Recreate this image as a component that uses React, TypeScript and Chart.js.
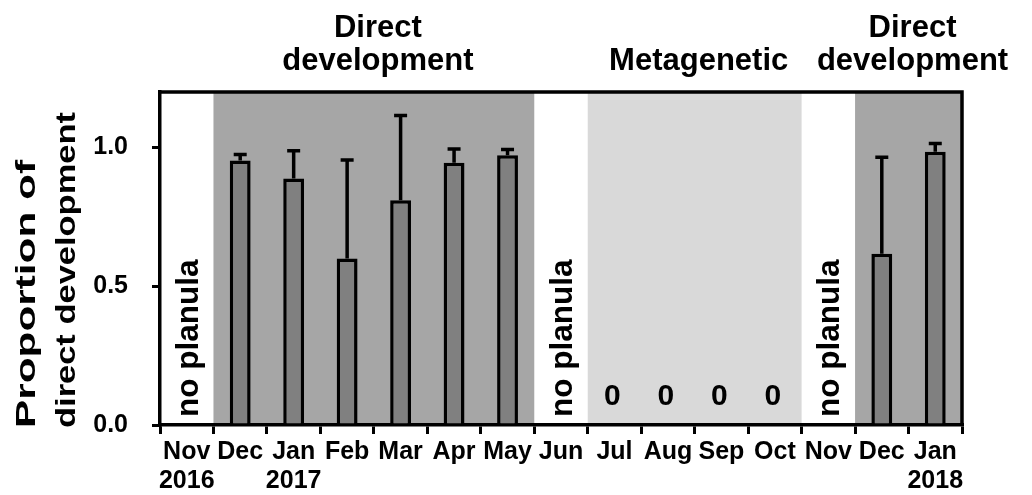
import React, { useEffect, useRef } from "react";
import { Chart, registerables } from "chart.js";

Chart.register(...registerables);

// ---- data ----
const months = ["Nov", "Dec", "Jan", "Feb", "Mar", "Apr", "May", "Jun", "Jul", "Aug", "Sep", "Oct", "Nov", "Dec", "Jan"];
const years = ["2016", "", "2017", "", "", "", "", "", "", "", "", "", "", "", "2018"];
const proportion: (number | null)[] = [null, 0.953, 0.888, 0.6, 0.81, 0.945, 0.972, null, 0, 0, 0, 0, null, 0.617, 0.985];
const errorUpper: (number | null)[] = [null, 0.022, 0.1, 0.355, 0.305, 0.05, 0.021, null, null, null, null, null, null, 0.348, 0.029];
const phase = ["none", "direct", "direct", "direct", "direct", "direct", "direct", "none", "meta", "meta", "meta", "meta", "none", "direct", "direct"];
const phaseHeaders: Record<string, string[]> = { direct: ["Direct", "development"], meta: ["Metagenetic"] };
const phaseColors: Record<string, string> = { direct: "#a6a6a6", meta: "#d9d9d9" };
const noSampleLabel = "no planula";
const yTickValues = [0, 0.5, 1.0];
const yTitle = ["Proportion of", "direct development"];

const FONT = "'Liberation Sans', Arial, sans-serif";

const labels = months.map((m, i) => (years[i] ? [m, years[i]] : m));

const decorPlugin = {
  id: "decor",
  beforeDraw(chart: any) {
    const { ctx, chartArea, scales } = chart;
    const x = scales.x;
    const half = (x.getPixelForValue(1) - x.getPixelForValue(0)) / 2;
    ctx.save();
    let i = 0;
    while (i < phase.length) {
      let j = i;
      while (j + 1 < phase.length && phase[j + 1] === phase[i]) j++;
      const color = phaseColors[phase[i]];
      if (color) {
        const l = x.getPixelForValue(i) - half;
        const r = x.getPixelForValue(j) + half;
        ctx.fillStyle = color;
        ctx.fillRect(l, chartArea.top, r - l, chartArea.bottom - chartArea.top);
      }
      i = j + 1;
    }
    ctx.restore();
  },
  afterDatasetsDraw(chart: any) {
    const { ctx, scales } = chart;
    const y = scales.y;
    const meta = chart.getDatasetMeta(0);
    ctx.save();
    ctx.strokeStyle = "#000";
    ctx.lineWidth = 3.5;
    ctx.lineCap = "butt";
    errorUpper.forEach((e, i) => {
      const v = proportion[i];
      if (e == null || v == null) return;
      const bar = meta.data[i];
      const top = y.getPixelForValue(v + e);
      ctx.beginPath();
      ctx.moveTo(bar.x, bar.y);
      ctx.lineTo(bar.x, top);
      ctx.moveTo(bar.x - 6.5, top);
      ctx.lineTo(bar.x + 6.5, top);
      ctx.stroke();
    });
    ctx.restore();
  },
  afterDraw(chart: any) {
    const { ctx, chartArea, scales } = chart;
    const x = scales.x;
    const y = scales.y;
    ctx.save();
    // top & right frame
    ctx.strokeStyle = "#000";
    ctx.lineWidth = 3.5;
    ctx.beginPath();
    ctx.moveTo(chartArea.left, chartArea.top);
    ctx.lineTo(chartArea.right, chartArea.top);
    ctx.lineTo(chartArea.right, chartArea.bottom);
    ctx.stroke();

    ctx.fillStyle = "#000";
    // phase headers
    ctx.font = `bold 31px ${FONT}`;
    ctx.textAlign = "center";
    ctx.textBaseline = "alphabetic";
    let i = 0;
    while (i < phase.length) {
      let j = i;
      while (j + 1 < phase.length && phase[j + 1] === phase[i]) j++;
      const lines = phaseHeaders[phase[i]];
      if (lines) {
        const cx = (x.getPixelForValue(i) + x.getPixelForValue(j)) / 2 + 4;
        lines.forEach((t, k) => {
          ctx.fillText(t, cx, 70 - (lines.length - 1 - k) * 33);
        });
      }
      i = j + 1;
    }

    // zero labels and no-sample labels
    proportion.forEach((v, idx) => {
      const cx = x.getPixelForValue(idx);
      if (v === 0) {
        ctx.font = `bold 30px ${FONT}`;
        ctx.textAlign = "center";
        ctx.textBaseline = "alphabetic";
        ctx.fillText("0", cx - 2, y.getPixelForValue(0) - 20);
      } else if (v == null) {
        ctx.save();
        ctx.font = `bold 31.5px ${FONT}`;
        ctx.translate(cx + 11, chartArea.bottom - 8);
        ctx.rotate(-Math.PI / 2);
        ctx.textAlign = "left";
        ctx.textBaseline = "alphabetic";
        ctx.fillText(noSampleLabel, 0, 0);
        ctx.restore();
      }
    });

    // y-axis title (each line stretched to its span in the reference)
    ctx.font = `bold 28px ${FONT}`;
    const xs = [27, 67];
    const spans = [268, 316];
    yTitle.forEach((t, k) => {
      const w = ctx.measureText(t).width;
      ctx.save();
      ctx.translate(xs[k], 428);
      ctx.rotate(-Math.PI / 2);
      ctx.scale(spans[k] / w, 1);
      ctx.textAlign = "left";
      ctx.textBaseline = "middle";
      ctx.fillText(t, 0, 0);
      ctx.restore();
    });
    ctx.restore();
  },
};

export default function App() {
  const ref = useRef<HTMLCanvasElement>(null);
  useEffect(() => {
    if (!ref.current) return;
    const chart = new Chart(ref.current, {
      type: "bar",
      data: {
        labels,
        datasets: [
          {
            data: proportion as any,
            backgroundColor: "#808080",
            borderColor: "#000",
            borderWidth: 3.5,
            borderSkipped: "start",
            barPercentage: 0.39,
            categoryPercentage: 1,
          },
        ],
      },
      options: {
        responsive: false,
        animation: false,
        devicePixelRatio: 1,
        layout: { padding: { top: 92, right: 70, left: 0, bottom: 0 } },
        plugins: { legend: { display: false }, tooltip: { enabled: false } },
        scales: {
          x: {
            offset: true,
            grid: { display: true, offset: true, drawOnChartArea: false, drawTicks: true, tickLength: 9, color: "#000", lineWidth: 3 },
            border: { display: true, color: "#000", width: 3.5 },
            ticks: {
              color: "#000",
              font: { family: FONT, size: 25, weight: "bold", lineHeight: 1.15 },
              padding: 4,
              maxRotation: 0,
              minRotation: 0,
              autoSkip: false,
            },
            afterFit: (s: any) => {
              s.height = 70;
            },
          },
          y: {
            min: 0,
            max: 1.2,
            grid: { display: true, drawOnChartArea: false, drawTicks: true, tickLength: 8, color: "#000", lineWidth: 3 },
            border: { display: true, color: "#000", width: 3.5 },
            afterBuildTicks: (s: any) => {
              s.ticks = yTickValues.map((v) => ({ value: v }));
            },
            ticks: {
              color: "#000",
              font: { family: FONT, size: 25, weight: "bold" },
              padding: 24,
              callback: (v: any) => Number(v).toFixed(1),
            },
            afterFit: (s: any) => {
              s.width = 160;
            },
          },
        },
      },
      plugins: [decorPlugin],
    });
    return () => chart.destroy();
  }, []);
  return (
    <div style={{ position: "absolute", left: 0, top: 0, width: 1032, height: 495, background: "#fff" }}>
      <canvas ref={ref} width={1032} height={495} />
    </div>
  );
}
